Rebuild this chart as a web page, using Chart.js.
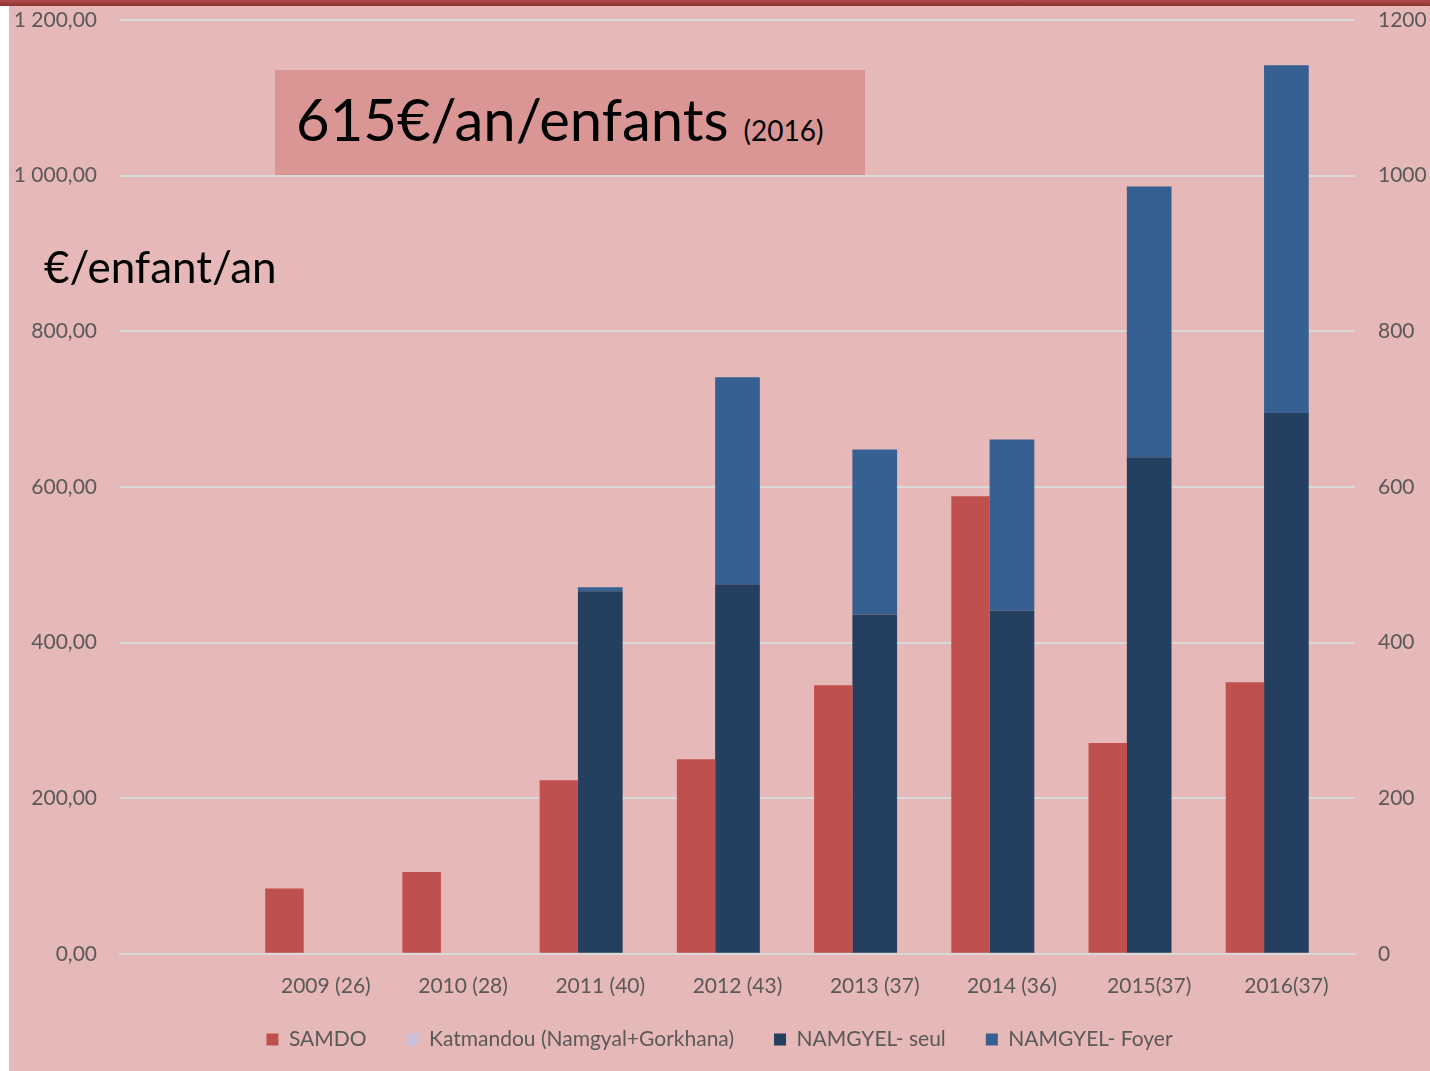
<!DOCTYPE html>
<html>
<head>
<meta charset="utf-8">
<script src="https://cdn.jsdelivr.net/npm/chart.js@4/dist/chart.umd.min.js"></script>
<style>
  body { margin: 0; background: #fff; width: 1430px; height: 1071px; overflow: hidden; position: relative; font-family: Lato, sans-serif; }
  #wrap { position: absolute; left: 9px; top: 0; width: 1421px; height: 1071px; background: #E6B8B7; }
  #topbar { position: absolute; left: 0; top: 0; width: 1430px; height: 6px; background: linear-gradient(#B24A4A, #8C3434); }
  #titlebox { position: absolute; left: 266px; top: 70px; width: 590px; height: 105px; background: #DA9694; }
  #titlebox .big { position: absolute; left: 21px; top: 14px; font-size: 58px; color: #000; white-space: nowrap; }
  #titlebox .small { font-size: 28px; }
  #ylabel { position: absolute; left: 35px; top: 240px; font-size: 44px; color: #000; white-space: nowrap; }
</style>
</head>
<body>
<div id="wrap">
  <canvas id="myChart" width="1421" height="1071"></canvas>
  <div id="titlebox"><div class="big">615€/an/enfants <span class="small">(2016)</span></div></div>
  <div id="ylabel">€/enfant/an</div>
</div>
<div id="topbar"></div>
<script>
    const categories = ["", "2009 (26)", "2010 (28)", "2011 (40)", "2012 (43)", "2013 (37)", "2014 (36)", "2015(37)", "2016(37)"];
    const samdo = [null, 84, 105, 223, 250, 345, 588, 271, 349];
    const katmandou = [null, 0, 0, 0, 0, 0, 0, 0, 0];
    const namgyelSeul = [null, null, null, 466, 475, 436, 441, 638, 695];
    const namgyelFoyer = [null, null, null, 5, 266, 212, 220, 348, 447];
    const yTicks = [0, 200, 400, 600, 800, 1000, 1200];

    // ordre de la légende (différent de l'ordre des piles)
    const legendRank = [0, 2, 3, 1];

    function frNumber(v) {
        let parts = v.toFixed(2).split(".");
        return parts[0].replace(/\B(?=(\d{3})+(?!\d))/g, " ") + "," + parts[1];
    }

    const tickFont = {family: "Lato", size: 21};
    const grey = "#595959";

    // légende plus proche de l'axe x
    const legendShift = {
        id: "legendShift",
        beforeLayout(chart) {
            const lg = chart.legend;
            if (lg && !lg.patched) {
                const fit = lg.fit;
                lg.fit = function() { fit.call(this); this.height -= 21; };
                lg.patched = true;
            }
        },
        afterLayout(chart) {
            const lg = chart.legend;
            lg.top -= 22;
            lg.height += 43;
            lg.bottom = lg.top + lg.height;
        }
    };

    function fitY(width) {
        return s => { s.width = width; s.paddingTop = 0; s.paddingBottom = 0; };
    }

    const ctx = document.getElementById("myChart").getContext("2d");

    const myChart = new Chart(ctx, {
        type: "bar",
        plugins: [legendShift],
        data: {
            labels: categories,
            datasets: [
                {label: "SAMDO", data: samdo, stack: "a", backgroundColor: "#C0504D", barPercentage: 0.93},
                {label: "NAMGYEL- seul", data: namgyelSeul, stack: "n", backgroundColor: "#243F60", barPercentage: 1.08},
                {label: "NAMGYEL- Foyer", data: namgyelFoyer, stack: "n", backgroundColor: "#376092", barPercentage: 1.08},
                {label: "Katmandou (Namgyal+Gorkhana)", data: katmandou, stack: "k", backgroundColor: "#CCC0DA", barPercentage: 0.93}
            ]
        },
        options: {
            responsive: false,
            animation: false,
            categoryPercentage: 0.905,
            layout: {padding: {top: 20, bottom: 10, left: 0, right: 0}},
            plugins: {
                tooltip: {enabled: false},
                legend: {
                    position: "bottom",
                    labels: {
                        boxWidth: 12,
                        boxHeight: 12,
                        padding: 40,
                        color: grey,
                        font: tickFont,
                        sort: (a, b) => legendRank[a.datasetIndex] - legendRank[b.datasetIndex]
                    }
                }
            },
            scales: {
                x: {
                    stacked: true,
                    grid: {display: false},
                    border: {color: "#D9D9D9", width: 2},
                    ticks: {color: grey, font: tickFont, padding: 12, maxRotation: 0}
                },
                y: {
                    stacked: true,
                    min: 0,
                    max: 1200,
                    afterBuildTicks: s => { s.ticks = yTicks.map(v => ({value: v})); },
                    afterFit: fitY(111),
                    grid: {color: "#D9D9D9", lineWidth: 2, drawTicks: false},
                    border: {display: false},
                    ticks: {color: grey, font: tickFont, padding: 23, callback: v => frNumber(v)}
                },
                y2: {
                    position: "right",
                    min: 0,
                    max: 1200,
                    afterBuildTicks: s => { s.ticks = yTicks.map(v => ({value: v})); },
                    afterFit: fitY(75),
                    grid: {display: false, drawTicks: false},
                    border: {display: false},
                    ticks: {color: grey, font: tickFont, padding: 23, callback: v => String(v)}
                }
            }
        }
    });
</script>
</body>
</html>
